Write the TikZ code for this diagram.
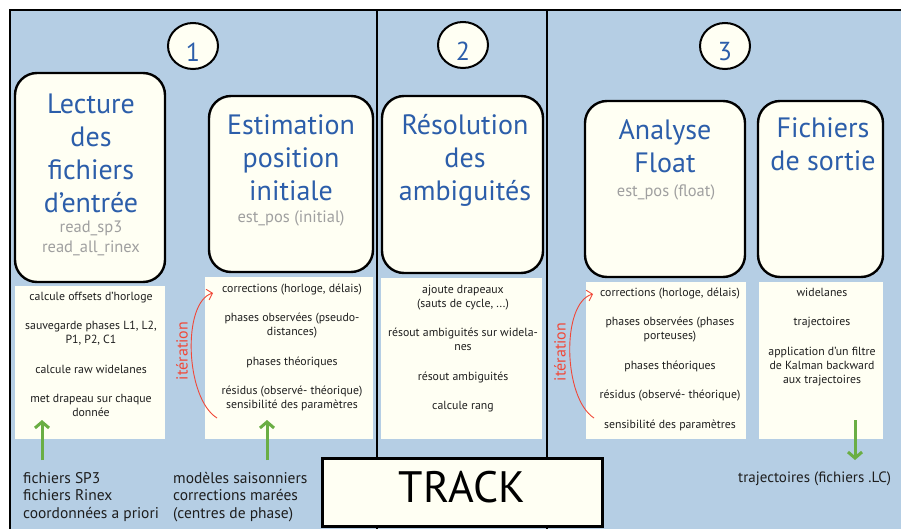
\documentclass[tikz,border=0pt]{standalone}
\usepackage{fontspec}
\setmainfont{PT Sans}
\usetikzlibrary{arrows.meta,shapes.geometric}

\definecolor{panel}{RGB}{181,206,228}
\definecolor{cream}{RGB}{255,255,243}
\definecolor{titleblue}{RGB}{44,94,170}
\definecolor{codegray}{RGB}{160,160,160}
\definecolor{loopred}{RGB}{240,72,56}
\definecolor{feedgreen}{RGB}{106,174,68}
\definecolor{ink}{RGB}{30,30,30}

\begin{document}
\begin{tikzpicture}[x=1pt, y=-1pt,
    stage/.style={draw, line width=2.4pt, fill=cream, rounded corners=22pt, inner sep=0pt},
    sheet/.style={fill=cream, inner sep=0pt},
    ring/.style={draw, ellipse, line width=2pt, fill=cream, minimum width=50pt, minimum height=46pt, inner sep=0pt},
    digit/.style={inner sep=0pt, text=titleblue, font=\fontsize{26}{30}\selectfont},
    title/.style={anchor=north, align=center, inner sep=0pt, text=titleblue, font=\fontsize{28}{33}\selectfont},
    func/.style={anchor=north, align=center, inner sep=0pt, text=codegray, font=\fontsize{16.5}{20}\selectfont},
    items/.style={anchor=north, align=center, inner sep=0pt, text=ink, font=\fontsize{11.8}{14}\selectfont},
    src/.style={anchor=north west, align=left, inner sep=0pt, text=ink, font=\fontsize{15.5}{17.5}\selectfont},
    loop/.style={draw=loopred, line width=0.9pt, -{Straight Barb[length=5pt,width=11pt]}},
    looptxt/.style={rotate=90, inner sep=0pt, text=loopred, font=\fontsize{16}{16}\selectfont},
    feed/.style={draw=feedgreen, line width=3pt, -{Straight Barb[length=6pt,width=14pt]}}]
    \useasboundingbox (0,0) rectangle (901,529);
    \fill[white] (0,0) rectangle (901,529);

    % background frame and the three stages
    \draw[line width=2.4pt, fill=panel] (10,10) rectangle (930,560);
    \draw[line width=2.4pt] (377,10) -- (377,540);
    \draw[line width=2.4pt] (547,10) -- (547,540);

    % stage numbers
    \node[ring] (ring1) at (193,46) {};
    \node[digit] (n1) at (193,52) {1};
    \node[ring] (ring2) at (463,45) {};
    \node[digit] (n2) at (463,51) {2};
    \node[ring] (ring3) at (725,46) {};
    \node[digit] (n3) at (725,52) {3};

    % step boxes
    \node[stage, minimum width=150pt, minimum height=209pt] (lect) at (90,177.5) {};
    \node[stage, minimum width=164pt, minimum height=176pt] (estim) at (291,184) {};
    \node[stage, minimum width=161pt, minimum height=177pt] (resol) at (462.5,184.5) {};
    \node[stage, minimum width=160pt, minimum height=176pt] (anal) at (665,189) {};
    \node[stage, minimum width=125pt, minimum height=176pt] (sortie) at (820.5,189) {};

    \node[title] (lectT) at (91,93.5) {Lecture\\des\\fichiers\\d’entrée};
    \node[func] (lectF) at (91,221) {read\_sp3\\read\_all\_rinex};
    \node[title] (estimT) at (291,114.5) {Estimation\\position\\initiale};
    \node[func] (estimF) at (291,210.8) {est\_pos (initial)};
    \node[title] (resolT) at (465,114.5) {Résolution\\des\\ambiguités};
    \node[title] (analT) at (665,119.5) {Analyse\\Float};
    \node[func] (analF) at (666,184.8) {est\_pos (float)};
    \node[title] (sortieT) at (823,117.5) {Fichiers\\de sortie};

    % detail sheets
    \node[sheet, minimum width=150pt, minimum height=153pt] (shA) at (90,362.5) {};
    \node[sheet, minimum width=168pt, minimum height=162pt] (shB) at (289,358) {};
    \node[sheet, minimum width=161pt, minimum height=161pt] (shC) at (461.5,358.5) {};
    \node[sheet, minimum width=160pt, minimum height=157pt] (shD) at (666,360.5) {};
    \node[sheet, minimum width=124pt, minimum height=157pt] (shE) at (821,360.5) {};

    \node[items] (txA) at (91,291.5) {calcule offsets d’horloge\\[15.5pt]
        sauvegarde phases L1, L2,\\P1, P2, C1\\[15.5pt]
        calcule raw widelanes\\[15.5pt]
        met drapeau sur chaque\\donnée};
    \node[items] (txB) at (292,283.5) {corrections (horloge, délais)\\[15.5pt]
        phases observées (pseudo-\\distances)\\[15.5pt]
        phases théoriques\\[15.5pt]
        résidus (observé- théorique)\\sensibilité des paramètres};
    \node[items] (txC) at (463,284.5) {ajoute drapeaux\\(sauts de cycle, ...)\\[15.5pt]
        résout ambiguités sur widela-\\nes\\[15.5pt]
        résout ambiguités\\[15.5pt]
        calcule rang};
    \node[items] (txD) at (670,287.5) {corrections (horloge, délais)\\[15.5pt]
        phases observées (phases\\porteuses)\\[15.5pt]
        phases théoriques\\[15.5pt]
        résidus (observé- théorique)\\[15.5pt]
        sensibilité des paramètres};
    \node[items] (txE) at (822,287.5) {widelanes\\[15.5pt]
        trajectoires\\[15.5pt]
        application d’un filtre\\de Kalman backward\\aux trajectoires};

    % iteration loops
    \coordinate (itB0) at (217,418);
    \coordinate (itB1) at (213,293);
    \draw[loop] (itB0) .. controls (185,398) and (182,302) .. (itB1);
    \node[looptxt] (itB) at (182,351) {itération};
    \coordinate (itD0) at (594,418);
    \coordinate (itD1) at (593,294);
    \draw[loop] (itD0) .. controls (563,398) and (561,303) .. (itD1);
    \node[looptxt] (itD) at (560,352) {itération};

    % inputs and outputs
    \node[src] (inA) at (23,471.8) {fichiers SP3\\fichiers Rinex\\coordonnées a priori};
    \node[src] (inB) at (173,471.8) {modèles saisonniers\\corrections marées\\(centres de phase)};
    \node[src, font=\fontsize{15}{17}\selectfont] (outE) at (738,471.2) {trajectoires (fichiers .LC)};
    \coordinate (fA0) at (42,460);
    \coordinate (fA1) at (42,420);
    \coordinate (fB0) at (267,460);
    \coordinate (fB1) at (267,420);
    \coordinate (fE0) at (855,420);
    \coordinate (fE1) at (855,460);
    \draw[feed] (fA0) -- (fA1);
    \draw[feed] (fB0) -- (fB1);
    \draw[feed] (fE0) -- (fE1);

    % program name
    \node[draw, line width=3pt, fill=cream, minimum width=280pt, minimum height=68pt,
        text depth=11pt, font=\fontsize{44}{44}\selectfont] (track) at (462,492) {TRACK};
\end{tikzpicture}
\end{document}
